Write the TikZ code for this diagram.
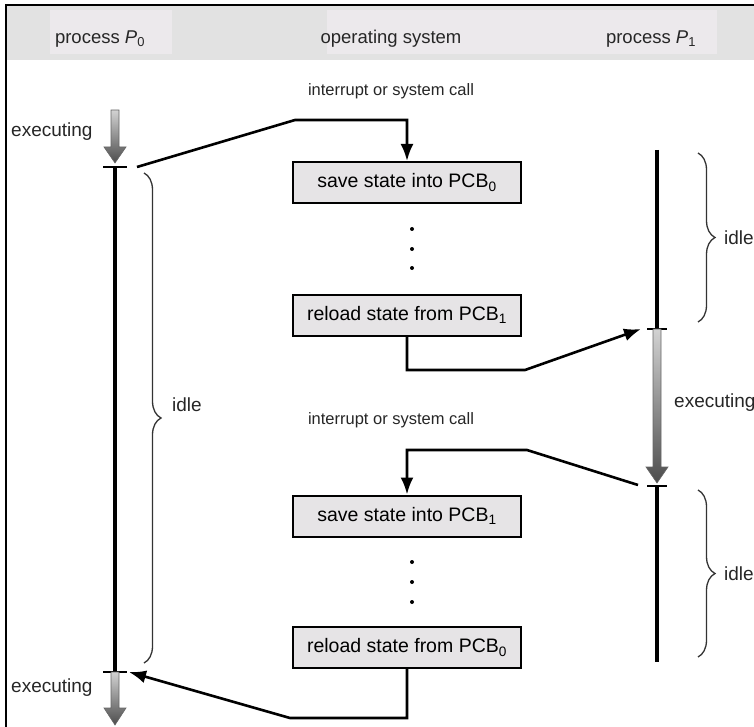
\documentclass[tikz,border=0pt]{standalone}
\usepackage{fontspec}
\setmainfont{Liberation Sans}
\usetikzlibrary{arrows.meta,decorations.pathreplacing}
\definecolor{boxfill}{HTML}{E6E4E6}
\definecolor{hdr}{HTML}{E2E2E2}
\definecolor{hdrcell}{HTML}{ECE9EC}
\begin{document}
\begin{tikzpicture}[x=1pt,y=-1pt,
  conn/.style={line width=2.6pt, -{Latex[length=17pt,width=13pt]}},
  statebox/.style={draw=black, line width=2pt, fill=boxfill, minimum width=228pt, minimum height=41pt, inner sep=0pt, font=\fontsize{19.5}{22}\selectfont},
  lbl/.style={font=\fontsize{19}{22}\selectfont, inner sep=0pt, text=black!85},
  hdrlbl/.style={font=\fontsize{18.5}{22}\selectfont, inner sep=0pt, text=black!85},
  smalllbl/.style={font=\fontsize{16.5}{19}\selectfont, inner sep=0pt, text=black!85},
  tl/.style={line width=4.3pt},
  tickmark/.style={line width=1.5pt},
  bracestyle/.style={decorate, decoration={brace, amplitude=17pt}, line width=1.3pt, draw=black!80},
  exarrow/.style={top color=gray!35, bottom color=black!70, draw=black!60, line width=0.6pt},
  dotnode/.style={circle, fill=black, inner sep=0pt, minimum size=4pt}
]
\useasboundingbox (0,0) rectangle (754,727);
% header
\fill[hdr] (6,6) rectangle (760,60);
\fill[hdrcell] (50,10) rectangle (172,54);
\fill[hdrcell] (327,10) rectangle (717,54);
\draw[line width=2.5pt] (6,800) -- (6,5) -- (800,5);
\node[hdrlbl] (h0) at (100,39) {process {\itshape P}\textsubscript{0}};
\node[hdrlbl] (hos) at (391,39) {operating system};
\node[hdrlbl] (h1) at (651,39) {process {\itshape P}\textsubscript{1}};
\node[smalllbl] (int1) at (391,91) {interrupt or system call};
\node[smalllbl] (int2) at (391,420) {interrupt or system call};
% process P0 timeline
\shade[exarrow] (111,110) -- (119,110) -- (119,147) -- (126,147) -- (115,163) -- (104,147) -- (111,147) -- cycle;
\draw[tickmark] (103,167) -- (127,167);
\draw[tl] (115,167) -- (115,672);
\draw[tickmark] (103,672) -- (127,672);
\shade[exarrow] (111,672) -- (119,672) -- (119,708) -- (126,708) -- (115,725) -- (104,708) -- (111,708) -- cycle;
\node[lbl, anchor=west] (ex0a) at (11,132) {executing};
\node[lbl, anchor=west] (ex0b) at (11,688) {executing};
\draw[bracestyle] (144,173) -- (144,663);
\node[lbl, anchor=west] (idle0) at (172,405) {idle};
% process P1 timeline
\draw[tl] (657,150) -- (657,329);
\draw[tickmark] (647,329) -- (667,329);
\shade[exarrow] (653,329) -- (661,329) -- (661,467) -- (668,467) -- (657,483) -- (646,467) -- (653,467) -- cycle;
\draw[tickmark] (647,486) -- (667,486);
\draw[tl] (657,486) -- (657,662);
\draw[bracestyle] (698,153) -- (698,322);
\draw[bracestyle] (698,490) -- (698,657);
\node[lbl, anchor=west] (idle1a) at (724,238) {idle};
\node[lbl, anchor=west] (idle1b) at (724,574) {idle};
\node[lbl, anchor=west] (ex1) at (674,403) {executing};
% OS boxes
\node[statebox] (b1) at (407,182.5) {save state into PCB\textsubscript{0}};
\node[statebox] (b2) at (407,315) {reload state from PCB\textsubscript{1}};
\node[statebox] (b3) at (407,516) {save state into PCB\textsubscript{1}};
\node[statebox] (b4) at (407,647.5) {reload state from PCB\textsubscript{0}};
\node[dotnode] (d1) at (412,229) {};
\node[dotnode] (d2) at (412,249) {};
\node[dotnode] (d3) at (412,268) {};
\node[dotnode] (d4) at (412,562) {};
\node[dotnode] (d5) at (412,582) {};
\node[dotnode] (d6) at (412,602) {};
% connectors
\coordinate (c1s) at (137,167);
\coordinate (c2e) at (641,329);
\coordinate (c3s) at (638,485);
\coordinate (c4e) at (129,672);
\draw[conn] (c1s) -- (295,120) -| (b1.north);
\draw[conn] (b2.south) |- (525,370) -- (c2e);
\draw[conn] (c3s) -- (527,450) -| (b3.north);
\draw[conn] (b4.south) |- (290,718) -- (c4e);
\end{tikzpicture}
\end{document}
